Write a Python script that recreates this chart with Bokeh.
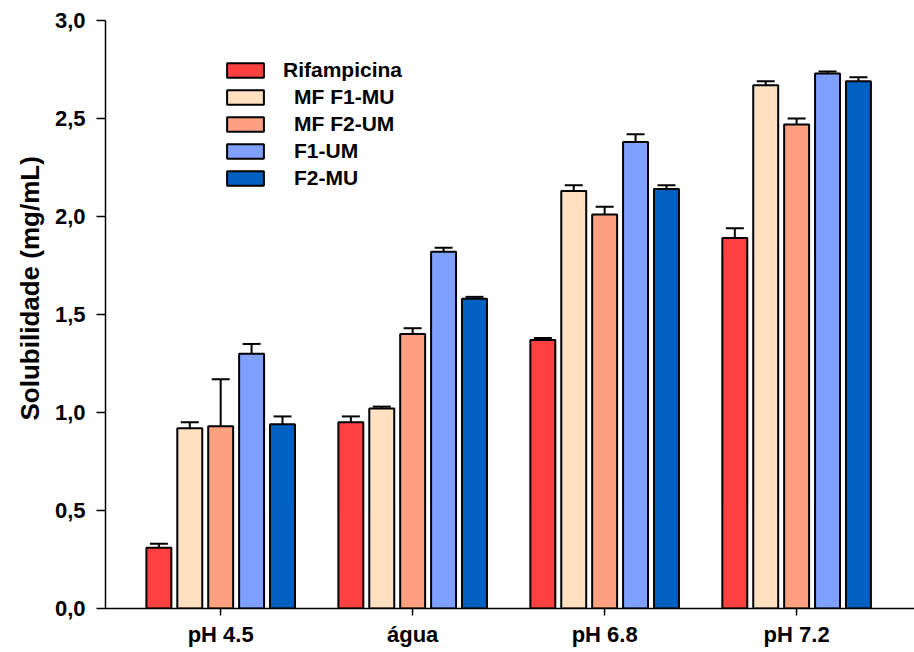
from bokeh.plotting import figure
from bokeh.models import (ColumnDataSource, Whisker, TeeHead, Legend, LegendItem,
                          FixedTicker, CustomJSTickFormatter, Range1d, Title)
from bokeh.embed import file_html
from bokeh.resources import INLINE

categories = ["pH 4.5", "água", "pH 6.8", "pH 7.2"]
series = ["Rifampicina", "MF F1-MU", "MF F2-UM", "F1-UM", "F2-MU"]
colors = ["#FF4040", "#FFE0C0", "#FFA080", "#80A0FF", "#0060C0"]
y_title = "Solubilidade (mg/mL)"

rifampicina = [0.31, 0.95, 1.37, 1.89]
rifampicina_err = [0.02, 0.03, 0.01, 0.05]
mf_f1_mu = [0.92, 1.02, 2.13, 2.67]
mf_f1_mu_err = [0.03, 0.01, 0.03, 0.02]
mf_f2_um = [0.93, 1.40, 2.01, 2.47]
mf_f2_um_err = [0.24, 0.03, 0.04, 0.03]
f1_um = [1.30, 1.82, 2.38, 2.73]
f1_um_err = [0.05, 0.02, 0.04, 0.01]
f2_mu = [0.94, 1.58, 2.14, 2.69]
f2_mu_err = [0.04, 0.01, 0.02, 0.02]

yticks = [0.0, 0.5, 1.0, 1.5, 2.0, 2.5, 3.0]

values = [rifampicina, mf_f1_mu, mf_f2_um, f1_um, f2_mu]
errors = [rifampicina_err, mf_f1_mu_err, mf_f2_um_err, f1_um_err, f2_mu_err]

FONT = "Liberation Sans"
pitch = 0.161
bar_w = 0.13

p = figure(width=914, height=652, output_backend="svg", toolbar_location=None,
           x_range=Range1d(-0.6, 3.614), y_range=Range1d(0, 3.0),
           min_border_left=105, min_border_top=20, min_border_right=0,
           min_border_bottom=44)
p.outline_line_color = None
p.xgrid.visible = False
p.ygrid.visible = False

renderers = []
for k, (name, vals, errs, col) in enumerate(zip(series, values, errors, colors)):
    xs = [i + (k - 2) * pitch for i in range(len(categories))]
    src = ColumnDataSource(dict(x=xs, top=vals,
                                upper=[v + e for v, e in zip(vals, errs)],
                                lower=[v - e for v, e in zip(vals, errs)]))
    r = p.vbar(x="x", top="top", bottom=0, width=bar_w, source=src,
               fill_color=col, line_color="black", line_width=2)
    renderers.append(r)
    w = Whisker(source=src, base="x", upper="upper", lower="lower",
                line_color="black", line_width=2,
                upper_head=TeeHead(size=18, line_width=2, line_color="black"),
                lower_head=TeeHead(size=18, line_width=2, line_color="black"))
    p.add_layout(w)

# axes
p.xaxis.ticker = FixedTicker(ticks=list(range(len(categories))))
p.xaxis.major_label_overrides = {i: c for i, c in enumerate(categories)}
p.xaxis.minor_tick_line_color = None
p.xaxis.major_tick_in = 0
p.xaxis.major_tick_out = 7
p.xaxis.axis_line_width = 1.5
p.xaxis.major_tick_line_width = 1.5
p.xaxis.major_label_text_font = FONT
p.xaxis.major_label_text_font_style = "bold"
p.xaxis.major_label_text_font_size = "22px"
p.xaxis.major_label_text_color = "black"
p.xaxis.major_label_standoff = 6

p.yaxis.ticker = FixedTicker(ticks=yticks)
p.yaxis.formatter = CustomJSTickFormatter(code="return tick.toFixed(1).replace('.', ',');")
p.yaxis.minor_tick_line_color = None
p.yaxis.major_tick_in = 0
p.yaxis.major_tick_out = 9
p.yaxis.axis_line_width = 1.5
p.yaxis.major_tick_line_width = 1.5
p.yaxis.major_label_text_font = FONT
p.yaxis.major_label_text_font_style = "bold"
p.yaxis.major_label_text_font_size = "22px"
p.yaxis.major_label_text_color = "black"
p.yaxis.major_label_standoff = 11

ytitle = Title(text=y_title, align="left", offset=188, standoff=13,
               text_font=FONT, text_font_style="bold", text_font_size="26px",
               text_color="black")
p.add_layout(ytitle, "left")

def make_legend(items, standoff, loc):
    lg = Legend(items=items, location=loc, orientation="vertical",
                padding=0, margin=0, spacing=3,
                glyph_width=46, glyph_height=18, label_height=16,
                label_standoff=standoff,
                label_text_font=FONT, label_text_font_style="bold",
                label_text_font_size="21px", label_text_color="black",
                border_line_alpha=0, background_fill_alpha=0)
    return lg

lg1 = make_legend([LegendItem(label=series[0], renderers=[renderers[0]])], 15, (117, 526))
lg2 = make_legend([LegendItem(label=series[k], renderers=[renderers[k]]) for k in range(1, 5)],
                  26, (117, 418))
p.add_layout(lg1, "center")
p.add_layout(lg2, "center")

open("out.html", "w").write(file_html(p, INLINE))
